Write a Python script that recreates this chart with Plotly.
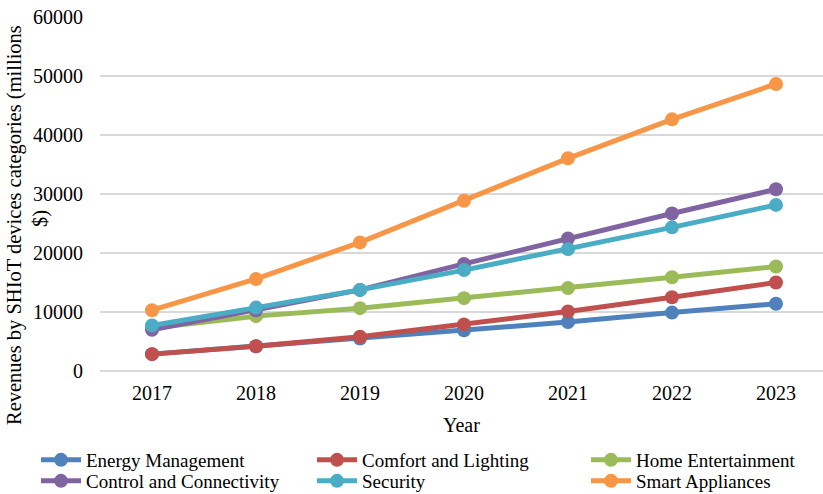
import plotly.graph_objects as go

years = ["2017", "2018", "2019", "2020", "2021", "2022", "2023"]
energy_management = [2860, 4200, 5500, 6900, 8300, 9900, 11400]
comfort_lighting = [2860, 4200, 5800, 7900, 10100, 12500, 15000]
home_entertainment = [7300, 9300, 10650, 12350, 14050, 15900, 17700]
control_connectivity = [7000, 10300, 13750, 18150, 22450, 26700, 30800]
security = [7700, 10750, 13750, 17100, 20650, 24350, 28150]
smart_appliances = [10300, 15600, 21800, 28850, 36050, 42650, 48650]

series_names = ["Energy Management", "Comfort and Lighting", "Home Entertainment",
                "Control and Connectivity", "Security", "Smart Appliances"]
series_values = [energy_management, comfort_lighting, home_entertainment,
                 control_connectivity, security, smart_appliances]
colors = ["#4F81BD", "#C0504D", "#9BBB59", "#8064A2", "#4BACC6", "#F79646"]
y_ticks = [0, 10000, 20000, 30000, 40000, 50000, 60000]
y_tick_labels = [str(v) for v in y_ticks]

FONT = "Liberation Serif"
W, H = 823, 494
L, R, T, B = 100, 0, 17, 123
PW, PH = W - L - R, H - T - B


def px_x(px):
    return (px - L) / PW


def px_y(py):
    return (H - B - py) / PH


legend_ids = ["legend", "legend2", "legend3", "legend4", "legend5", "legend6"]
col_x = [36, 312, 586]
row_top = [441, 462]

fig = go.Figure()
legends = {}
for i, (name, vals, col, lg) in enumerate(zip(series_names, series_values, colors, legend_ids)):
    fig.add_trace(go.Scatter(
        x=list(range(len(years))), y=vals, name=name, mode="lines+markers",
        line=dict(color=col, width=5),
        marker=dict(color=col, size=14),
        legend=lg,
    ))
    legends[lg] = dict(
        orientation="h", xref="container", yref="container",
        x=col_x[i % 3] / W, y=(H - row_top[i // 3]) / H,
        xanchor="left", yanchor="top",
        itemwidth=40, font=dict(family=FONT, size=19),
        bgcolor="rgba(0,0,0,0)",
    )

fig.update_layout(
    width=W, height=H,
    margin=dict(l=L, r=R, t=T, b=B, autoexpand=False),
    paper_bgcolor="white", plot_bgcolor="white",
    font=dict(family=FONT, size=20, color="black"),
    showlegend=True,
    xaxis=dict(
        tickmode="array", tickvals=list(range(len(years))), ticktext=years,
        range=[-0.5, 6.452], showgrid=False, zeroline=False, showline=False,
        ticks="", ticklabelstandoff=8,
        tickfont=dict(family=FONT, size=20),
    ),
    yaxis=dict(
        range=[0, 60000], tickmode="array", tickvals=y_ticks, ticktext=y_tick_labels,
        showgrid=True,
        gridcolor="#D9D9D9", gridwidth=1.5, zeroline=True, zerolinecolor="#D9D9D9",
        zerolinewidth=1.5, showline=False, ticks="", ticklabelstandoff=16,
        tickfont=dict(family=FONT, size=20),
    ),
    annotations=[
        dict(text="Year", xref="paper", yref="paper", x=0.5, y=px_y(425),
             xanchor="center", yanchor="middle", showarrow=False,
             font=dict(family=FONT, size=20)),
        dict(text="Revenues by SHIoT devices categories (millions", xref="paper",
             yref="paper", x=px_x(14), y=px_y(225), textangle=-90,
             xanchor="center", yanchor="middle", showarrow=False,
             font=dict(family=FONT, size=20.5)),
        dict(text="$)", xref="paper", yref="paper", x=px_x(40),
             y=px_y(219), textangle=-90, xanchor="center", yanchor="middle",
             showarrow=False, font=dict(family=FONT, size=20.5)),
    ],
)
fig.update_layout(**legends)

fig.write_html("out.html")
